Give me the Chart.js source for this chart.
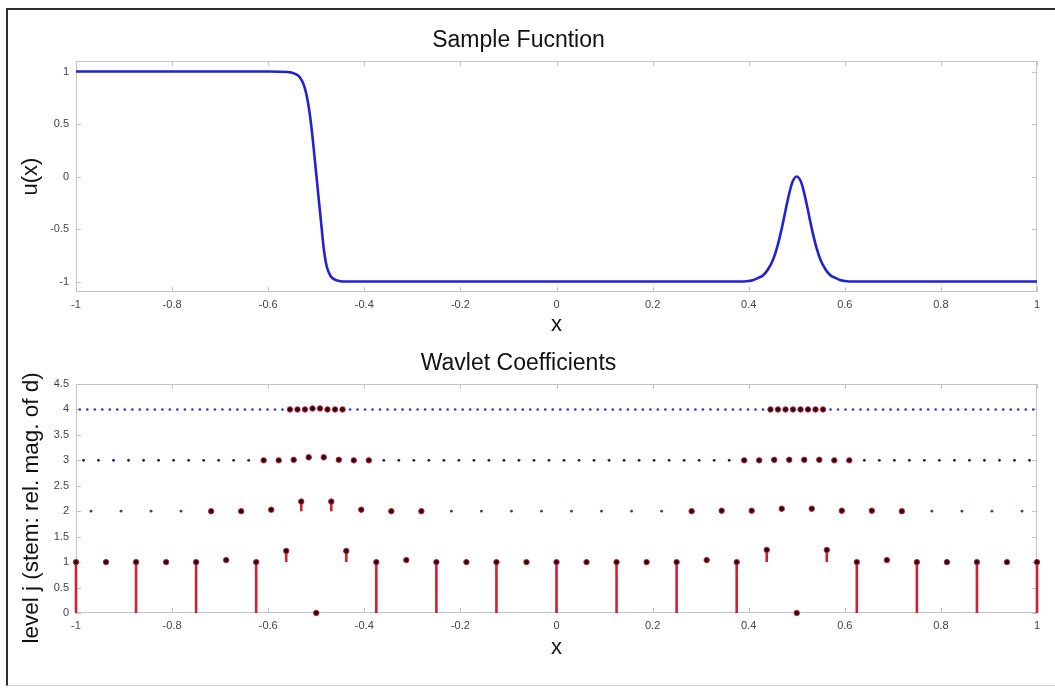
<!DOCTYPE html>
<html>
<head>
<meta charset="utf-8">
<script src="https://cdn.jsdelivr.net/npm/chart.js@4.4.0/dist/chart.umd.min.js"></script>
<style>
html,body{margin:0;padding:0;background:#fff;}
body{width:1055px;height:688px;position:relative;overflow:hidden;}
#frame{position:absolute;left:6px;top:8px;width:1060px;height:678px;border-left:2px solid #2e2e2e;border-top:2px solid #2e2e2e;border-bottom:1px solid #d4d4d4;box-sizing:border-box;}
#w1{position:absolute;left:0;top:0;width:1055px;height:340px;}
#w2{position:absolute;left:0;top:340px;width:1055px;height:348px;}
canvas{display:block;}
</style>
</head>
<body>
<div id="frame"></div>
<div id="w1"><canvas id="c1" width="1055" height="340"></canvas></div>
<div id="w2"><canvas id="c2" width="1055" height="348"></canvas></div>
<script>
// ---------- tick labels ----------
const xTickValues = [-1, -0.8, -0.6, -0.4, -0.2, 0, 0.2, 0.4, 0.6, 0.8, 1];
const xTickLabels = ['-1', '-0.8', '-0.6', '-0.4', '-0.2', '0', '0.2', '0.4', '0.6', '0.8', '1'];
const uTickValues = [-1, -0.5, 0, 0.5, 1];
const uTickLabels = ['-1', '-0.5', '0', '0.5', '1'];
const levelTickValues = [0, 0.5, 1, 1.5, 2, 2.5, 3, 3.5, 4, 4.5];
const levelTickLabels = ['0', '0.5', '1', '1.5', '2', '2.5', '3', '3.5', '4', '4.5'];

// ---------- sample function u(x) ----------
const sampleX = [-1, -0.9, -0.8, -0.7, -0.6, -0.56, -0.545, -0.535, -0.525, -0.517, -0.51, -0.503, -0.496, -0.489, -0.484, -0.478, -0.47, -0.46, -0.445, -0.4, -0.2, 0, 0.2, 0.38,
  0.40, 0.41, 0.42, 0.43, 0.44, 0.45, 0.46, 0.47, 0.48, 0.49, 0.5, 0.51, 0.52, 0.53, 0.54, 0.55, 0.56, 0.57, 0.58, 0.59, 0.60, 0.62, 0.8, 1];
const sampleU = [1, 1, 1, 1, 1, 0.995, 0.98, 0.95, 0.86, 0.70, 0.47, 0.16, -0.16, -0.48, -0.70, -0.86, -0.95, -0.985, -1, -1, -1, -1, -1, -1,
  -0.995, -0.985, -0.965, -0.94, -0.885, -0.80, -0.66, -0.47, -0.25, -0.065, 0, -0.065, -0.25, -0.47, -0.66, -0.80, -0.885, -0.94, -0.965, -0.985, -0.995, -1, -1, -1];

// ---------- wavelet coefficients ----------
// level 0 (stems from 0)
const level0X = [-1, -0.875, -0.75, -0.625, -0.5, -0.375, -0.25, -0.125, 0, 0.125, 0.25, 0.375, 0.5, 0.625, 0.75, 0.875, 1];
const level0Y = [1, 1, 1, 1, 0, 1, 1, 1, 1, 1, 1, 1, 0, 1, 1, 1, 1];
// level 1 (all significant)
const level1X = [-0.9375, -0.8125, -0.6875, -0.5625, -0.4375, -0.3125, -0.1875, -0.0625, 0.0625, 0.1875, 0.3125, 0.4375, 0.5625, 0.6875, 0.8125, 0.9375];
const level1Y = [1, 1, 1.04, 1.22, 1.22, 1.04, 1, 1, 1, 1, 1.04, 1.24, 1.24, 1.04, 1, 1];
// level 2
const level2ActiveX = [-0.71875, -0.65625, -0.59375, -0.53125, -0.46875, -0.40625, -0.34375, -0.28125, 0.28125, 0.34375, 0.40625, 0.46875, 0.53125, 0.59375, 0.65625, 0.71875];
const level2ActiveY = [2, 2, 2.03, 2.19, 2.19, 2.03, 2, 2, 2, 2.01, 2.01, 2.05, 2.05, 2.01, 2.01, 2];
const level2SmallX = [-0.96875, -0.90625, -0.84375, -0.78125, -0.21875, -0.15625, -0.09375, -0.03125, 0.03125, 0.09375, 0.15625, 0.21875, 0.78125, 0.84375, 0.90625, 0.96875];
const level2Value = 2;
// level 3
const level3ActiveX = [-0.609375, -0.578125, -0.546875, -0.515625, -0.484375, -0.453125, -0.421875, -0.390625, 0.390625, 0.421875, 0.453125, 0.484375, 0.515625, 0.546875, 0.578125, 0.609375];
const level3ActiveY = [3, 3, 3.01, 3.06, 3.06, 3.01, 3, 3, 3, 3, 3.01, 3.01, 3.01, 3.01, 3, 3];
const level3SmallX = [-0.984375, -0.953125, -0.921875, -0.890625, -0.859375, -0.828125, -0.796875, -0.765625, -0.734375, -0.703125, -0.671875, -0.640625,
  -0.359375, -0.328125, -0.296875, -0.265625, -0.234375, -0.203125, -0.171875, -0.140625, -0.109375, -0.078125, -0.046875, -0.015625,
  0.015625, 0.046875, 0.078125, 0.109375, 0.140625, 0.171875, 0.203125, 0.234375, 0.265625, 0.296875, 0.328125, 0.359375,
  0.640625, 0.671875, 0.703125, 0.734375, 0.765625, 0.796875, 0.828125, 0.859375, 0.890625, 0.921875, 0.953125, 0.984375];
const level3Value = 3;
// level 4
const level4ActiveX = [-0.5547, -0.5391, -0.5234, -0.5078, -0.4922, -0.4766, -0.4609, -0.4453, 0.4453, 0.4609, 0.4766, 0.4922, 0.5078, 0.5234, 0.5391, 0.5547];
const level4ActiveY = [4, 4, 4, 4.02, 4.02, 4, 4, 4, 4, 4, 4, 4, 4, 4, 4, 4];
const level4SmallX = [-0.9922, -0.9766, -0.9609, -0.9453, -0.9297, -0.9141, -0.8984, -0.8828, -0.8672, -0.8516, -0.8359, -0.8203, -0.8047, -0.7891,
  -0.7734, -0.7578, -0.7422, -0.7266, -0.7109, -0.6953, -0.6797, -0.6641, -0.6484, -0.6328, -0.6172, -0.6016, -0.5859, -0.5703,
  -0.4297, -0.4141, -0.3984, -0.3828, -0.3672, -0.3516, -0.3359, -0.3203, -0.3047, -0.2891, -0.2734, -0.2578, -0.2422, -0.2266,
  -0.2109, -0.1953, -0.1797, -0.1641, -0.1484, -0.1328, -0.1172, -0.1016, -0.0859, -0.0703, -0.0547, -0.0391, -0.0234, -0.0078,
  0.0078, 0.0234, 0.0391, 0.0547, 0.0703, 0.0859, 0.1016, 0.1172, 0.1328, 0.1484, 0.1641, 0.1797, 0.1953, 0.2109,
  0.2266, 0.2422, 0.2578, 0.2734, 0.2891, 0.3047, 0.3203, 0.3359, 0.3516, 0.3672, 0.3828, 0.3984, 0.4141, 0.4297,
  0.5703, 0.5859, 0.6016, 0.6172, 0.6328, 0.6484, 0.6641, 0.6797, 0.6953, 0.7109, 0.7266, 0.7422, 0.7578, 0.7734,
  0.7891, 0.8047, 0.8203, 0.8359, 0.8516, 0.8672, 0.8828, 0.8984, 0.9141, 0.9297, 0.9453, 0.9609, 0.9766, 0.9922];
const level4Value = 4;

// ---------- helpers ----------
const FONT = "'Liberation Sans', Arial, Helvetica, sans-serif";
const boxPlugin = {
  id: 'matlabBox',
  beforeDatasetsDraw(chart) {
    const { ctx, chartArea: a } = chart;
    const xs = chart.scales.x, ys = chart.scales.y;
    ctx.save();
    ctx.strokeStyle = '#c4c4c4';
    ctx.lineWidth = 1;
    ctx.strokeRect(a.left + 0.5, a.top + 0.5, a.right - a.left - 1, a.bottom - a.top - 1);
    ctx.beginPath();
    const L = 5;
    xs.ticks.forEach(t => {
      const px = Math.round(xs.getPixelForValue(t.value)) + 0.5;
      ctx.moveTo(px, a.bottom); ctx.lineTo(px, a.bottom - L);
      ctx.moveTo(px, a.top); ctx.lineTo(px, a.top + L);
    });
    ys.ticks.forEach(t => {
      const py = Math.round(ys.getPixelForValue(t.value)) + 0.5;
      ctx.moveTo(a.left, py); ctx.lineTo(a.left + L, py);
      ctx.moveTo(a.right, py); ctx.lineTo(a.right - L, py);
    });
    ctx.stroke();
    ctx.restore();
  }
};

function xScale(axisHeight, titlePadBottom) {
  return {
    type: 'linear', min: -1, max: 1,
    afterBuildTicks: s => { s.ticks = xTickValues.map(v => ({ value: v })); },
    afterFit: s => { s.height = axisHeight; },
    grid: { display: false, drawTicks: false, tickLength: 0 }, border: { display: false },
    ticks: { callback: (v, i) => xTickLabels[i], autoSkip: false, maxRotation: 0, minRotation: 0,
      padding: 6, color: '#444', font: { family: FONT, size: 11 } },
    title: { display: true, text: 'x', color: '#111', font: { family: FONT, size: 22 }, padding: { top: 0, bottom: titlePadBottom } }
  };
}
function yScale(min, max, values, labels, title, titlePadTop, titleSize) {
  return {
    type: 'linear', min: min, max: max,
    afterBuildTicks: s => { s.ticks = values.map(v => ({ value: v })); },
    afterFit: s => { s.width = 76; },
    grid: { display: false, drawTicks: false, tickLength: 0 }, border: { display: false },
    ticks: { callback: (v, i) => labels[i], autoSkip: false, padding: 7, color: '#444', font: { family: FONT, size: 11 } },
    title: { display: true, text: title, color: '#111', font: { family: FONT, size: titleSize }, padding: { top: titlePadTop, bottom: 0 } }
  };
}

// ---------- chart 1 ----------
new Chart(document.getElementById('c1'), {
  type: 'scatter',
  data: {
    datasets: [{
      data: sampleX.map((x, i) => ({ x: x, y: sampleU[i] })),
      showLine: true, borderColor: '#2222d4', borderWidth: 2.6, pointRadius: 0,
      cubicInterpolationMode: 'monotone', fill: false
    }]
  },
  options: {
    responsive: false, animation: false,
    layout: { padding: { left: 0, right: 18, top: 0, bottom: 0 } },
    plugins: {
      legend: { display: false }, tooltip: { enabled: false },
      title: { display: true, text: 'Sample Fucntion', color: '#111', font: { family: FONT, size: 23, weight: 'normal' }, padding: { top: 27, bottom: 6.4 } }
    },
    scales: {
      x: xScale(48, 1.5),
      y: yScale(-1.1, 1.1, uTickValues, uTickLabels, 'u(x)', 18, 22)
    }
  },
  plugins: [boxPlugin]
});

// ---------- chart 2 ----------
const stemPoints = [];
function addStems(xs, ys, base) {
  xs.forEach((x, i) => {
    stemPoints.push({ x: x, y: base }, { x: x, y: ys[i] }, { x: x, y: null });
  });
}
addStems(level0X, level0Y, 0);
addStems(level1X, level1Y, 1);
addStems(level2ActiveX, level2ActiveY, 2);
addStems(level3ActiveX, level3ActiveY, 3);
addStems(level4ActiveX, level4ActiveY, 4);

const bigPoints = [];
[[level0X, level0Y], [level1X, level1Y], [level2ActiveX, level2ActiveY], [level3ActiveX, level3ActiveY], [level4ActiveX, level4ActiveY]]
  .forEach(([xs, ys]) => xs.forEach((x, i) => bigPoints.push({ x: x, y: ys[i] })));

const smallDots = (xs, v) => xs.map(x => ({ x: x, y: v }));

new Chart(document.getElementById('c2'), {
  type: 'scatter',
  data: {
    datasets: [
      { label: 'big', data: bigPoints, pointRadius: 2.7, pointBorderWidth: 1, pointBackgroundColor: '#2a0812', pointBorderColor: '#c21d38', order: 1, clip: false },
      { label: 'l4', data: smallDots(level4SmallX, level4Value), pointRadius: 1.3, pointBorderWidth: 0, pointBackgroundColor: '#3434c4', order: 2, clip: false },
      { label: 'l3', data: smallDots(level3SmallX, level3Value), pointRadius: 1.4, pointBorderWidth: 0, pointBackgroundColor: '#1e1e44', order: 2, clip: false },
      { label: 'l2', data: smallDots(level2SmallX, level2Value), pointRadius: 1.4, pointBorderWidth: 0, pointBackgroundColor: '#45456a', order: 2, clip: false },
      { label: 'stems', data: stemPoints, showLine: true, spanGaps: false, pointRadius: 0, borderColor: '#d41f30', borderWidth: 2.6, order: 10, clip: false }
    ]
  },
  options: {
    responsive: false, animation: false,
    layout: { padding: { left: 0, right: 18, top: 0, bottom: 0 } },
    plugins: {
      legend: { display: false }, tooltip: { enabled: false },
      title: { display: true, text: 'Wavlet Coefficients', color: '#111', font: { family: FONT, size: 23, weight: 'normal' }, padding: { top: 10, bottom: 6.4 } }
    },
    scales: {
      x: xScale(75, 27),
      y: yScale(0, 4.5, levelTickValues, levelTickLabels, 'level j (stem: rel. mag. of d)   ', 18, 22.5)
    }
  },
  plugins: [boxPlugin]
});
</script>
</body>
</html>
